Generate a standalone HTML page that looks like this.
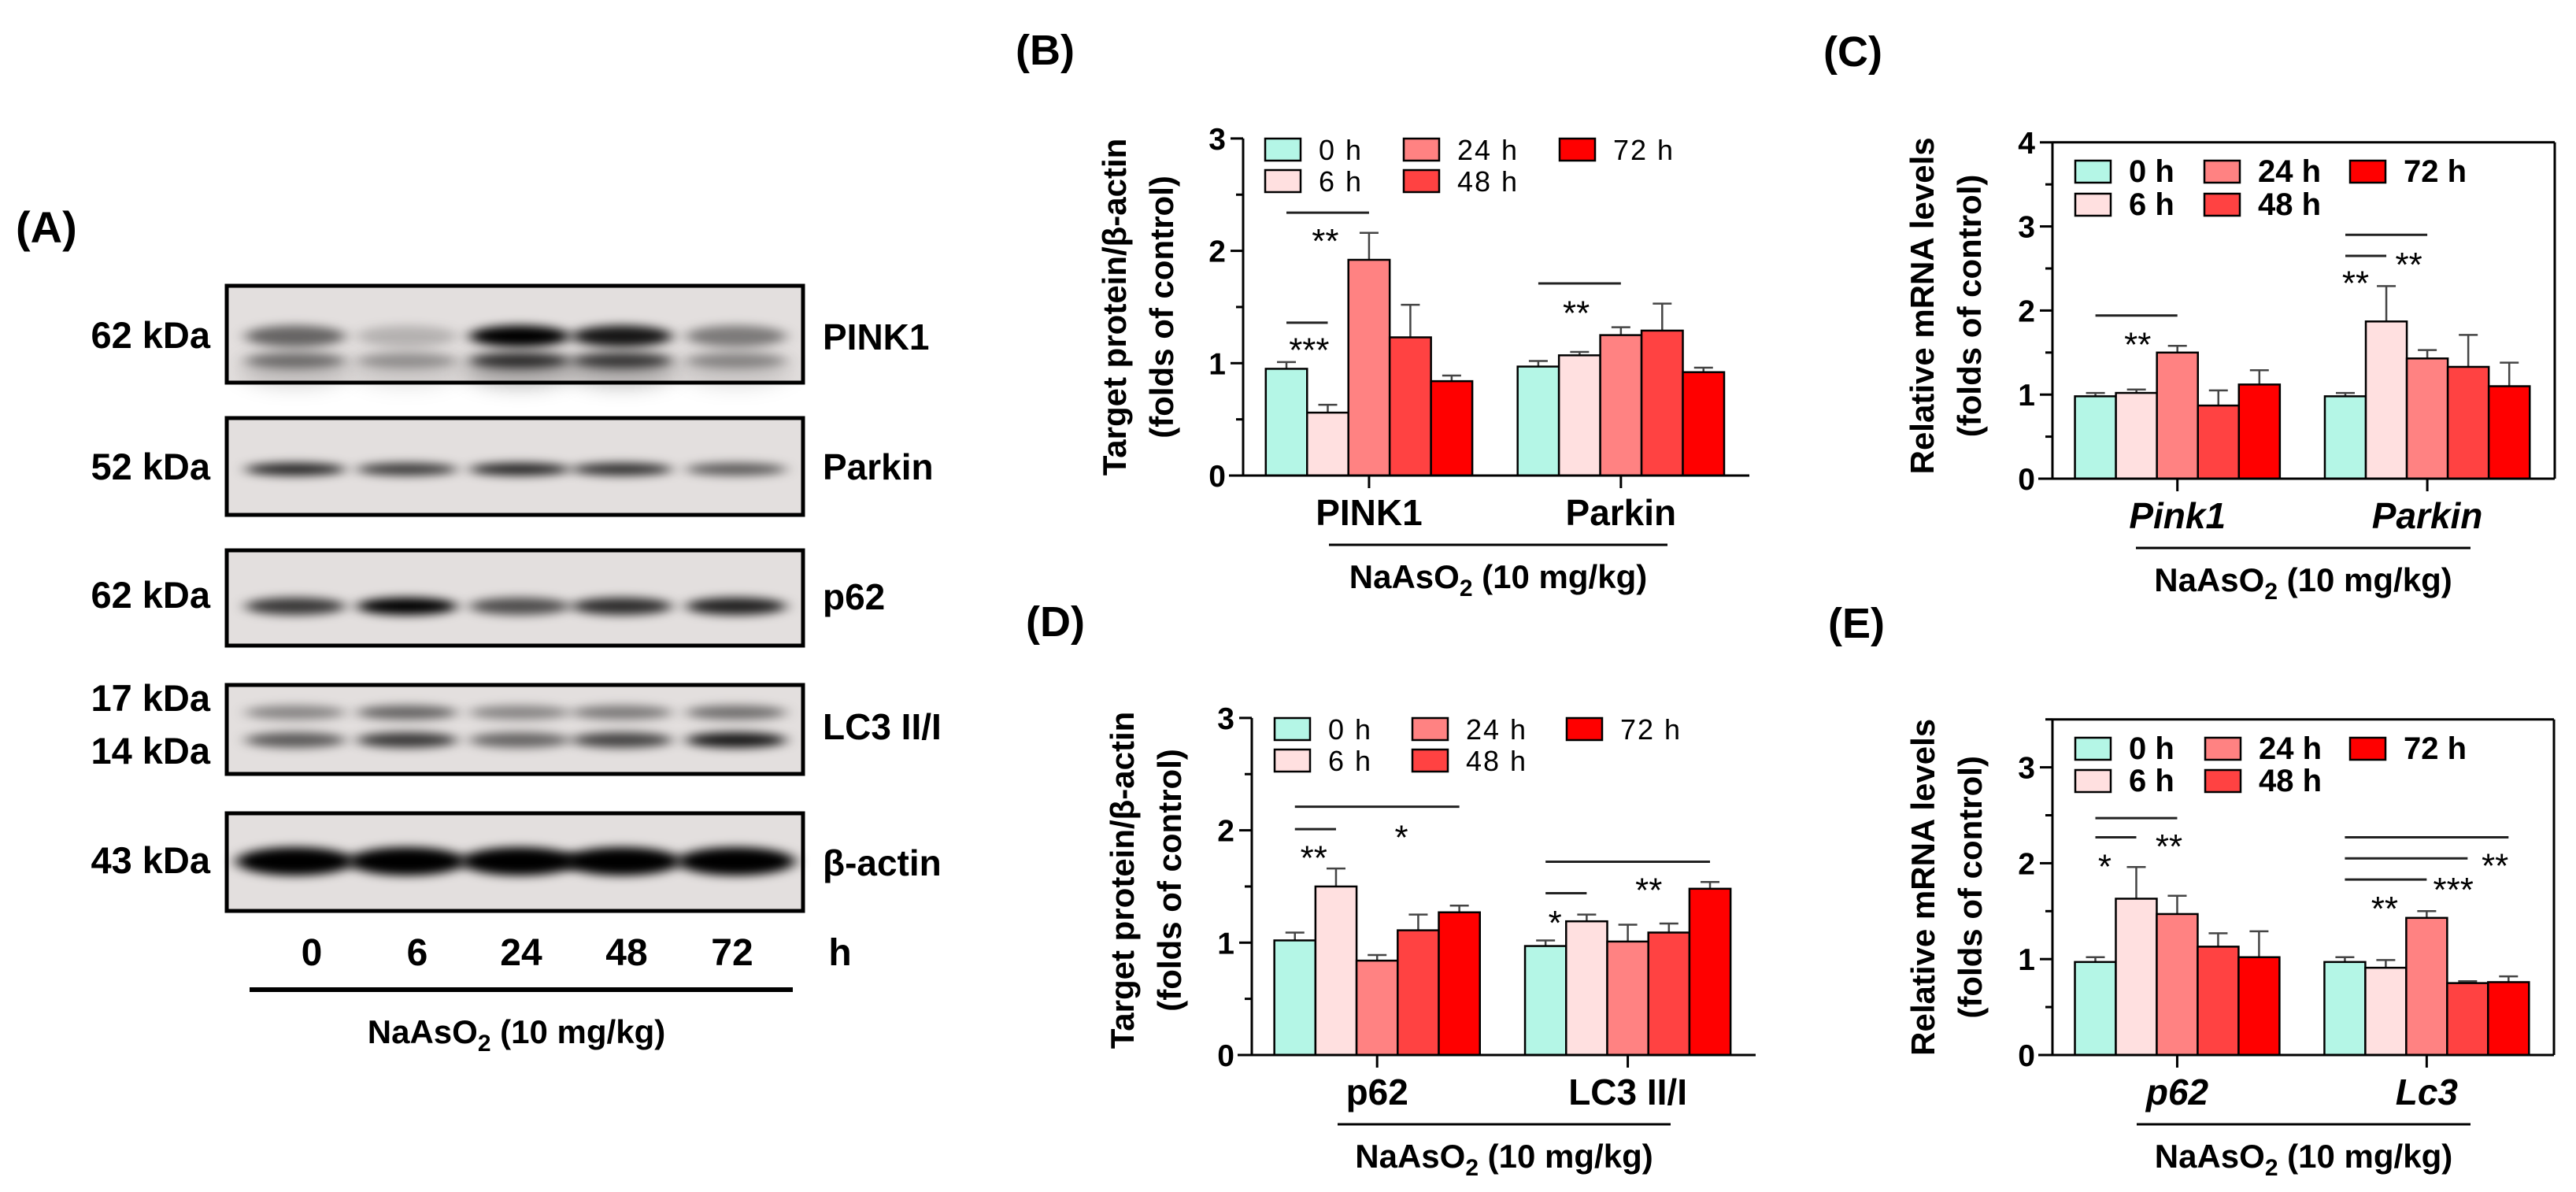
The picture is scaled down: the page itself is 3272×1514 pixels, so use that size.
<!DOCTYPE html>
<html><head><meta charset="utf-8">
<style>
html,body{margin:0;padding:0;background:#fff;}
svg{display:block;font-family:"Liberation Sans",Arial,sans-serif;}
</style></head>
<body>
<svg id="fig" width="3272" height="1514" viewBox="0 0 3272 1514" xmlns="http://www.w3.org/2000/svg">
<defs>
<filter id="blur" x="-30%" y="-200%" width="160%" height="500%"><feGaussianBlur stdDeviation="9 6"/></filter>
<filter id="blur2" x="-30%" y="-200%" width="160%" height="500%"><feGaussianBlur stdDeviation="14 12"/></filter>
</defs>
<g id="panelA"></g>
<g id="charts"></g>
</svg>
<script>
// ---------- DATA ----------
const timeLabels = ['0 h','6 h','24 h','48 h','72 h'];
const colors = ['#b4f6e6','#ffe0e0','#ff8282','#ff4242','#ff0000'];

const catsB = ['PINK1','Parkin'];
const meansB = [[0.95,0.56,1.92,1.23,0.84],[0.97,1.07,1.25,1.29,0.92]];
const errsB  = [[0.06,0.07,0.24,0.29,0.05],[0.05,0.03,0.07,0.24,0.04]];
const ticksB = ['0','1','2','3'];

const catsC = ['Pink1','Parkin'];
const meansC = [[0.98,1.02,1.50,0.87,1.12],[0.98,1.87,1.43,1.33,1.10]];
const errsC  = [[0.04,0.04,0.08,0.18,0.17],[0.04,0.42,0.10,0.38,0.28]];
const ticksC = ['0','1','2','3','4'];

const catsD = ['p62','LC3 II/I'];
const meansD = [[1.02,1.50,0.84,1.11,1.27],[0.97,1.19,1.01,1.09,1.48]];
const errsD  = [[0.07,0.16,0.05,0.14,0.06],[0.05,0.06,0.15,0.08,0.06]];
const ticksD = ['0','1','2','3'];

const catsE = ['p62','Lc3'];
const meansE = [[0.97,1.63,1.47,1.13,1.02],[0.97,0.91,1.43,0.75,0.76]];
const errsE  = [[0.05,0.33,0.19,0.14,0.27],[0.05,0.08,0.07,0.02,0.06]];
const ticksE = ['0','1','2','3'];

// significance: [group, fromBar, toBar, yValue]
const sigLinesB = [[0,0,2,2.34],[0,0,1,1.36],[1,0,2,1.71]];
// stars: [group, barPos, yValue, text]
const sigStarsB = [[0,0.94,2.15,'**'],[0,0.55,1.18,'***'],[1,0.92,1.51,'**']];
const sigLinesC = [[0,0,2,1.94],[1,0,2,2.90],[1,0,1,2.65]];
const sigStarsC = [[0,1.03,1.68,'**'],[1,1.55,2.63,'**'],[1,0.25,2.41,'**']];
const sigLinesD = [[0,0,4,2.21],[0,0,1,2.01],[1,0,4,1.72],[1,0,1,1.44]];
const sigStarsD = [[0,2.59,2.0,'*'],[0,0.46,1.82,'**'],[1,2.51,1.53,'**'],[1,0.23,1.24,'*']];
const sigLinesE = [[0,0,2,2.47],[0,0,1,2.27],[1,0,4,2.27],[1,0,3,2.05],[1,0,2,1.83]];
const sigStarsE = [[0,1.8,2.25,'**'],[0,0.23,2.04,'*'],[1,3.67,2.05,'**'],[1,2.65,1.8,'***'],[1,0.97,1.6,'**']];

// blot band intensities per lane (0..1)
const laneLabels = ['0','6','24','48','72'];
const pinkUpper = [0.55,0.2,1.0,0.9,0.45];
const pinkLower = [0.45,0.3,0.75,0.7,0.35];
const parkinBand = [0.85,0.75,0.85,0.8,0.6];
const p62Band = [0.75,1.0,0.65,0.8,0.85];
const lc3Upper = [0.4,0.55,0.4,0.45,0.5];
const lc3Lower = [0.6,0.75,0.55,0.7,0.9];
const actinBand = [1,1,1,1,1];

// ---------- HELPERS ----------
const NS='http://www.w3.org/2000/svg';
function mk(parent,tag,attrs,text){const e=document.createElementNS(NS,tag);for(const k in attrs)e.setAttribute(k,attrs[k]);if(text!==undefined)e.textContent=text;parent.appendChild(e);return e;}

// ---------- PANEL A ----------
const A=document.getElementById('panelA');
const lbA=mk(A,'text',{x:20,y:308,'font-size':56,'font-weight':'bold'},'(A)');


const laneX=[375,517,660,790,935];
const blots=[
 {name:'PINK1',y0:363,y1:486,kda:[['62 kDa',425]],lab:427,bands:[[pinkUpper,427,0.9],[pinkLower,458,0.6]],diffuse:true},
 {name:'Parkin',y0:531,y1:654,kda:[['52 kDa',592]],lab:592,bands:[[parkinBand,596,0.5]]},
 {name:'p62',y0:699,y1:820,kda:[['62 kDa',755]],lab:757,bands:[[p62Band,770,0.7]]},
 {name:'LC3 II/I',y0:870,y1:983,kda:[['17 kDa',886],['14 kDa',953]],lab:922,bands:[[lc3Upper,905,0.55],[lc3Lower,940,0.6]]},
 {name:'β-actin',y0:1033,y1:1157,kda:[['43 kDa',1092]],lab:1095,bands:[[actinBand,1094,1.05]]}
];
blots.forEach(b=>{
  const g=mk(A,'g',{});
  
  
  mk(g,'rect',{x:288,y:b.y0,width:732,height:b.y1-b.y0,fill:'#e3dfde'});
  const bg=mk(g,'g',{'clip-path':''});
  b.bands.forEach(([vals,yy,th])=>{
    vals.forEach((v,i)=>{
      const w=b.name==='β-actin'?150:128;
      const h=b.name==='β-actin'?36:(b.name==='Parkin'?16:26*th+4);
      mk(bg,'ellipse',{cx:laneX[i],cy:yy,rx:w/2,ry:h/2,fill:'#000','fill-opacity':Math.min(1,v),filter:'url(#blur)'});
    });
  });
  if(b.diffuse){laneX.forEach((x,i)=>mk(bg,'ellipse',{cx:x,cy:470,rx:70,ry:22,fill:'#000','fill-opacity':pinkLower[i]*0.35,filter:'url(#blur2)'}));}
  mk(g,'rect',{x:288,y:b.y0,width:732,height:b.y1-b.y0,fill:'none',stroke:'#000','stroke-width':5});
  b.kda.forEach(([t,yy])=>{const e=mk(g,'text',{x:267,y:yy+17,'font-size':47,'font-weight':'bold','text-anchor':'end'},t);
    
    });
  const r=mk(g,'text',{x:1045,y:b.lab+17,'font-size':46,'font-weight':'bold'},b.name);
  
  
});
// clip band overflow: cover outside with white
mk(A,'rect',{x:288,y:363,width:0,height:0,fill:'none'});
const lanesG=mk(A,'g',{});


[396,530,662,796,930].forEach((x,i)=>{const e=mk(lanesG,'text',{x:x,y:1226,'font-size':48,'font-weight':'bold','text-anchor':'middle'},laneLabels[i]);
  
  });
const hL=mk(lanesG,'text',{x:1067,y:1226,'font-size':48,'font-weight':'bold','text-anchor':'middle'},'h');


const trL=mk(A,'line',{x1:317,x2:1007,y1:1257,y2:1257,stroke:'#000','stroke-width':6});


const trT=mk(A,'text',{x:656,y:1325,'font-size':42,'font-weight':'bold','text-anchor':'middle','font-family':'"Liberation Sans Narrow","Liberation Sans",sans-serif'});


trT.innerHTML='NaAsO<tspan font-size="30" dy="10">2</tspan><tspan dy="-10"> (10 mg/kg)</tspan>';

// ---------- CHARTS ----------
const C=document.getElementById('charts');
function chart(o){
  const g=mk(C,'g',{});
  
  
  const yS=v=>o.base-v*o.unit;
  const spacing=(o.axEnd-o.ax)/o.cats.length*0.995;
  const bw=spacing*0.164;
  const gc=i=>o.ax+spacing*(i+0.5);
  const bx=(gi,b)=>gc(gi)+(b-2)*bw;
  // panel label
  const pl=mk(g,'text',{x:o.lbx,y:o.lby,'font-size':54,'font-weight':'bold'},o.label);
  
  
  // bars
  o.means.forEach((arr,gi)=>arr.forEach((v,b)=>{
    const x=bx(gi,b), top=yS(v), et=yS(v+o.errs[gi][b]);
    const el=mk(g,'line',{x1:x,x2:x,y1:top,y2:et,stroke:'#444','stroke-width':2.5});
    
    
    const cap=mk(g,'line',{x1:x-12,x2:x+12,y1:et,y2:et,stroke:'#444','stroke-width':2.5});
    
    
    const r=mk(g,'rect',{x:x-bw/2,y:top,width:bw,height:o.base-top,fill:colors[b],stroke:'#000','stroke-width':2.5});
    
    
  }));
  // axes
  const ya=mk(g,'line',{x1:o.ax,x2:o.ax,y1:yS(o.yMax),y2:o.base,stroke:'#000','stroke-width':3});
  
  
  const xa=mk(g,'line',{x1:o.ax-18,x2:o.axEnd,y1:o.base,y2:o.base,stroke:'#000','stroke-width':3});
  
  
  if(o.frame){
    const f1=mk(g,'line',{x1:o.ax,x2:o.axEnd,y1:yS(o.yMax),y2:yS(o.yMax),stroke:'#000','stroke-width':3});
    
    
    const f2=mk(g,'line',{x1:o.axEnd,x2:o.axEnd,y1:yS(o.yMax),y2:o.base,stroke:'#000','stroke-width':3});
    
    
  }
  for(let v=0;v<=o.yMax+1e-6;v+=0.5){
    const major=Math.abs(v-Math.round(v))<1e-6;
    const t=mk(g,'line',{x1:o.ax-(major?16:9),x2:o.ax,y1:yS(v),y2:yS(v),stroke:'#000','stroke-width':3});
    
    
  }
  o.ticks.forEach((t,i)=>{const e=mk(g,'text',{x:o.ax-22,y:yS(i)+14,'font-size':39,'font-weight':'bold','text-anchor':'end'},t);
    
    });
  // y title
  const cy=(yS(o.yMax)+o.base)/2+o.tOff;
  const t1=mk(g,'text',{x:0,y:0,'font-size':42,'font-weight':'bold','text-anchor':'middle',transform:`translate(${o.tx1+15},${cy}) rotate(-90)`},o.title1);
  
  
  const t2=mk(g,'text',{x:0,y:0,'font-size':42,'font-weight':'bold','text-anchor':'middle',transform:`translate(${o.tx1+75},${cy}) rotate(-90)`},'(folds of control)');
  
  
  // categories
  o.cats.forEach((c,i)=>{
    const tk=mk(g,'line',{x1:gc(i),x2:gc(i),y1:o.base,y2:o.base+16,stroke:'#000','stroke-width':3});
    
    
    const e=mk(g,'text',{x:gc(i),y:o.base+63,'font-size':46,'font-weight':'bold','text-anchor':'middle','font-style':o.italic?'italic':'normal'},c);
    
    
  });
  const bl=mk(g,'line',{x1:o.brk[0],x2:o.brk[1],y1:o.base+88,y2:o.base+88,stroke:'#000','stroke-width':3});
  
  
  const tl=mk(g,'text',{x:(o.brk[0]+o.brk[1])/2,y:o.base+143,'font-size':42,'font-weight':'bold','text-anchor':'middle','font-family':'"Liberation Sans Narrow","Liberation Sans",sans-serif'});
  
  
  tl.innerHTML='NaAsO<tspan font-size="30" dy="10">2</tspan><tspan dy="-10"> (10 mg/kg)</tspan>';
  // significance
  o.sigL.forEach(([gi,a,b,v])=>{const e=mk(g,'line',{x1:bx(gi,a),x2:bx(gi,b),y1:yS(v),y2:yS(v),stroke:'#222','stroke-width':3});
    
    });
  o.sigS.forEach(([gi,p,v,t])=>{const e=mk(g,'text',{x:bx(gi,p),y:yS(v)+24,'font-size':44,'text-anchor':'middle'},t);
    
    });
  // legend
  const lg=mk(g,'g',{});
  
  
  const pos=[[0,0],[0,1],[1,0],[1,1],[2,0]];
  timeLabels.forEach((t,i)=>{
    const [c,r]=pos[i];
    const x=o.lgx[c], y=o.lgy[r];
    const it=mk(lg,'g',{});
    
    
    mk(it,'rect',{x:x,y:y,width:45,height:28,fill:colors[i],stroke:'#000','stroke-width':2.5});
    mk(it,'text',{x:x+68,y:y+27,'font-size':o.lgBold?40:36,'font-weight':o.lgBold?'bold':'normal','letter-spacing':o.lgBold?0:2,'font-family':o.lgBold?'"Liberation Sans Narrow","Liberation Sans",sans-serif':'"Liberation Sans",sans-serif'},t);
  });
}
chart({name:'chart-b-protein-pink1-parkin',label:'(B)',lbx:1290,lby:82,cats:catsB,means:meansB,errs:errsB,ticks:ticksB,
  ax:1579,axEnd:2222,base:604,unit:142.7,yMax:3,frame:false,title1:'Target protein/β-actin',tx1:1415,tOff:0,
  brk:[1688,2118],sigL:sigLinesB,sigS:sigStarsB,lgx:[1607,1783,1981],lgy:[176,216],lgBold:false,italic:false});
chart({name:'chart-c-mrna-pink1-parkin',label:'(C)',lbx:2316,lby:84,cats:catsC,means:meansC,errs:errsC,ticks:ticksC,
  ax:2607,axEnd:3245,base:608,unit:106.8,yMax:4,frame:true,title1:'Relative mRNA levels',tx1:2441,tOff:-6,
  brk:[2713,3138],sigL:sigLinesC,sigS:sigStarsC,lgx:[2636,2800,2985],lgy:[204,246],lgBold:true,italic:true});
chart({name:'chart-d-protein-p62-lc3',label:'(D)',lbx:1303,lby:808,cats:catsD,means:meansD,errs:errsD,ticks:ticksD,
  ax:1590,axEnd:2230,base:1340,unit:142.7,yMax:3,frame:false,title1:'Target protein/β-actin',tx1:1425,tOff:-8,
  brk:[1699,2122],sigL:sigLinesD,sigS:sigStarsD,lgx:[1619,1794,1990],lgy:[912,952],lgBold:false,italic:false});
chart({name:'chart-e-mrna-p62-lc3',label:'(E)',lbx:2322,lby:810,cats:catsE,means:meansE,errs:errsE,ticks:ticksE,
  ax:2607,axEnd:3244,base:1340,unit:121.8,yMax:3.5,frame:true,title1:'Relative mRNA levels',tx1:2442,tOff:0,
  brk:[2714,3138],sigL:sigLinesE,sigS:sigStarsE,lgx:[2636,2801,2985],lgy:[937,978],lgBold:true,italic:true});
</script>
</body></html>
